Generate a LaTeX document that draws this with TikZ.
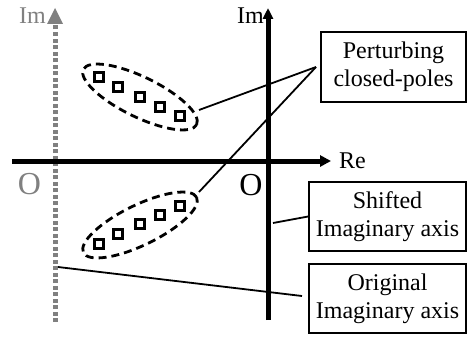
\documentclass[tikz,border=0pt]{standalone}
\usepackage{fontspec}
\setmainfont{Liberation Serif}
\usetikzlibrary{shapes.geometric,arrows.meta}
\definecolor{axgray}{HTML}{808080}
\tikzset{
  labelbox/.style={draw,line width=1.8pt,minimum height=69pt,inner sep=0pt,align=center,font=\fontsize{24}{28}\selectfont},
  pole/.style={draw,line width=2.2pt,minimum size=9pt,inner sep=0pt},
  cluster/.style={ellipse,draw,dashed,dash pattern=on 8pt off 5pt,line width=2.8pt,minimum width=126pt,minimum height=40pt,inner sep=0pt},
  connector/.style={line width=1.8pt},
  axislabel/.style={font=\fontsize{24}{28}\selectfont,inner sep=0pt},
  originlabel/.style={font=\fontsize{32}{36}\selectfont,inner sep=0pt},
}
\begin{document}
\begin{tikzpicture}[x=1pt,y=-1pt]
\useasboundingbox (0,0) rectangle (468,337);
% original (gray) imaginary axis
\draw[axgray,line width=5pt,dash pattern=on 4pt off 2.5pt] (55,322) -- (55,23);
\fill[axgray] (55,8) -- (63,24) -- (47,24) -- cycle;
\node[axislabel,text=axgray,anchor=base east] (imo) at (46,24) {Im};
\node[originlabel,text=axgray] (oo) at (29.5,184) {O};
% real axis
\draw[line width=5pt,-{Triangle[width=11pt,length=11pt]}] (12,161) -- (331,161);
\node[axislabel,anchor=base west] (re) at (339,168) {Re};
% shifted imaginary axis
\draw[line width=5pt,-{Triangle[width=10pt,length=11pt]}] (268,320) -- (268,8);
\node[axislabel,anchor=base east] (ims) at (264,24) {Im};
\node[originlabel] (os) at (251,185) {O};
% clusters
\node[cluster,rotate=-26] (topell) at (140,97) {};
\node[cluster,rotate=26] (botell) at (140,225) {};
\foreach \x/\y [count=\i] in {99/77,118/87,140/97,160/107,180/116}
  \node[pole] (tp\i) at (\x,\y) {};
\foreach \x/\y [count=\i] in {99/244,118/234,140/224,160/215,180/206}
  \node[pole] (bp\i) at (\x,\y) {};
% boxes
\node[labelbox,minimum width=145pt,minimum height=70pt] (pbox) at (393.5,67) {Perturbing\\closed-poles};
\node[labelbox,minimum width=157pt] (sbox) at (387.5,216.5) {Shifted\\Imaginary axis};
\node[labelbox,minimum width=157pt] (obox) at (387.5,298.5) {Original\\Imaginary axis};
% connector ends
\coordinate (c1) at (199,110);
\coordinate (c2) at (199,192);
\coordinate (c3) at (273,223);
\coordinate (c4) at (58,267);
\coordinate (pin) at (316,67);
\coordinate (oin) at (302,296);
\draw[connector] (c1) -- (pin);
\draw[connector] (c2) -- (pin);
\draw[connector] (c3) -- (sbox.west);
\draw[connector] (c4) -- (oin);
\end{tikzpicture}
\end{document}
